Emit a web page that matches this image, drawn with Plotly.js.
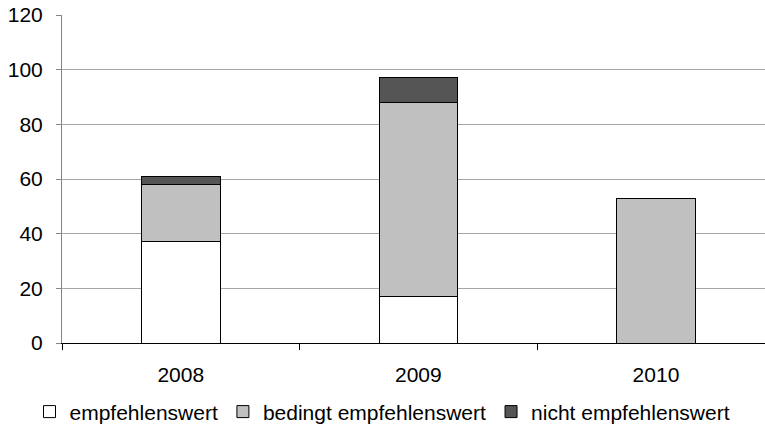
<!DOCTYPE html>
<html>
<head>
<meta charset="utf-8">
<script src="https://cdn.plot.ly/plotly-3.0.1.min.js"></script>
<style>html,body{margin:0;padding:0;background:#fff;}#chart{width:765px;height:435px;}</style>
</head>
<body>
<div id="chart"></div>
<script>
const years = ['2008', '2009', '2010'];
const seriesNames = ['empfehlenswert', 'bedingt empfehlenswert', 'nicht empfehlenswert'];
const empfehlenswert = [37, 17, null];
const bedingt = [21, 71, 53];
const nicht = [3, 9, null];
const yTicks = [0, 20, 40, 60, 80, 100, 120];

const colors = ['#ffffff', '#c0c0c0', '#555555'];
const values = [empfehlenswert, bedingt, nicht];

const traces = values.map((v, i) => ({
  type: 'bar',
  name: seriesNames[i],
  x: years,
  y: v,
  marker: { color: colors[i], line: { color: '#000000', width: 1 } },
  hoverinfo: 'skip'
}));

const font = { family: '"Liberation Sans", Arial, sans-serif', color: '#000000' };

const layout = {
  width: 765,
  height: 435,
  margin: { l: 62, r: 0, t: 15, b: 92, pad: 0 },
  paper_bgcolor: '#ffffff',
  plot_bgcolor: '#ffffff',
  barmode: 'stack',
  bargap: 0.669,
  font: Object.assign({ size: 21 }, font),
  showlegend: true,
  legend: {
    orientation: 'h',
    xref: 'container', yref: 'container',
    x: 0.5, xanchor: 'center',
    y: 0.053, yanchor: 'middle',
    font: Object.assign({ size: 21 }, font),
    traceorder: 'normal',
    itemwidth: 30
  },
  xaxis: {
    type: 'category',
    range: [-0.5, 2.459],
    showline: true,
    linecolor: '#000000',
    linewidth: 1,
    ticks: 'outside',
    tickson: 'boundaries',
    ticklen: 6,
    tickcolor: '#000000',
    showgrid: false,
    zeroline: false,
    ticklabelstandoff: 13,
    tickfont: Object.assign({ size: 21 }, font)
  },
  yaxis: {
    range: [0, 120],
    tickvals: yTicks,
    ticktext: yTicks.map(String),
    showline: true,
    linecolor: '#868686',
    linewidth: 1,
    ticks: 'outside',
    ticklen: 5,
    tickcolor: '#868686',
    showgrid: true,
    gridcolor: '#a6a6a6',
    gridwidth: 1,
    zeroline: false,
    ticklabelstandoff: 9,
    tickfont: Object.assign({ size: 21 }, font)
  }
};

Plotly.newPlot('chart', traces, layout, { displayModeBar: false, staticPlot: true });
</script>
</body>
</html>
